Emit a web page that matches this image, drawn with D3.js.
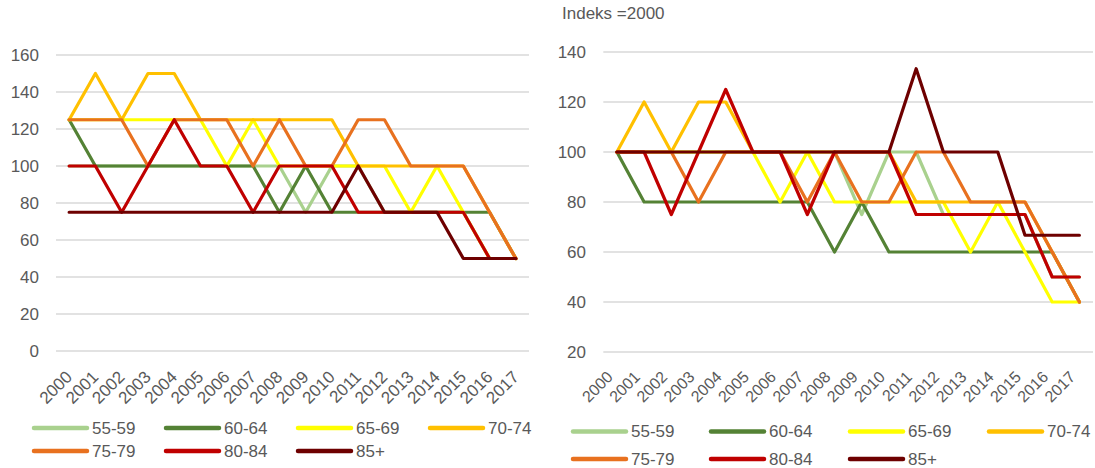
<!DOCTYPE html>
<html>
<head>
<meta charset="utf-8">
<script src="https://cdn.jsdelivr.net/npm/d3@7"></script>
<style>
  html, body { margin: 0; padding: 0; background: #fff; }
  svg { display: block; }
  text { font-family: "Liberation Sans", Arial, sans-serif; fill: #595959; }
</style>
</head>
<body>
<svg id="chart" width="1095" height="468"></svg>
<script>
// ---- Data ----
const years = ["2000","2001","2002","2003","2004","2005","2006","2007","2008","2009","2010","2011","2012","2013","2014","2015","2016","2017"];
const seriesNames = ["55-59","60-64","65-69","70-74","75-79","80-84","85+"];
const seriesColors = ["#A9D18E","#548235","#FFFF00","#FFC000","#E8711F","#C00000","#6E0000"];

// Left chart (absolute values)
const left5559 = [100,100,100,100,100,100,100,100,100,75,100,100,75,75,75,75,50,50];
const left6064 = [125,100,100,100,100,100,100,100,75,100,75,75,75,75,75,75,75,50];
const left6569 = [125,125,125,125,125,125,100,125,100,100,100,100,100,75,100,75,50,50];
const left7074 = [125,150,125,150,150,125,125,125,125,125,125,100,100,100,100,100,75,50];
const left7579 = [125,125,125,100,125,125,125,100,125,100,100,125,125,100,100,100,75,50];
const left8084 = [100,100,75,100,125,100,100,75,100,100,100,75,75,75,75,75,50,50];
const left85 = [75,75,75,75,75,75,75,75,75,75,75,100,75,75,75,50,50,50];
const leftTicks = [0,20,40,60,80,100,120,140,160];

// Right chart (index, 2000 = 100)
const right5559 = [100,100,100,100,100,100,100,100,100,75,100,100,75,75,75,75,50,50];
const right6064 = [100,80,80,80,80,80,80,80,60,80,60,60,60,60,60,60,60,40];
const right6569 = [100,100,100,100,100,100,80,100,80,80,80,80,80,60,80,60,40,40];
const right7074 = [100,120,100,120,120,100,100,100,100,100,100,80,80,80,80,80,60,40];
const right7579 = [100,100,100,80,100,100,100,80,100,80,80,100,100,80,80,80,60,40];
const right8084 = [100,100,75,100,125,100,100,75,100,100,100,75,75,75,75,75,50,50];
const right85 = [100,100,100,100,100,100,100,100,100,100,100,133.3,100,100,100,66.7,66.7,66.7];
const rightTicks = [20,40,60,80,100,120,140];
const rightTitle = "Indeks =2000";

const leftSeries = [left5559,left6064,left6569,left7074,left7579,left8084,left85];
const rightSeries = [right5559,right6064,right6569,right7074,right7579,right8084,right85];

// ---- Drawing ----
const svg = d3.select("#chart");
svg.append("rect").attr("width",1095).attr("height",468).attr("fill","#fff");

function drawChart(cfg) {
  const g = svg.append("g");
  const x = d3.scalePoint().domain(years).range([cfg.x0, cfg.x1]).padding(0.5);
  const y = d3.scaleLinear().domain(cfg.domain).range([cfg.yBottom, cfg.yTop]);

  // gridlines
  g.selectAll("line.grid").data(cfg.ticks).join("line")
    .attr("x1", cfg.x0).attr("x2", cfg.x1)
    .attr("y1", d => y(d)).attr("y2", d => y(d))
    .attr("stroke", "#D9D9D9").attr("stroke-width", 1.3);

  // y axis labels
  g.selectAll("text.ytick").data(cfg.ticks).join("text")
    .attr("x", cfg.yLabelX).attr("y", d => y(d))
    .attr("dy", "0.35em").attr("text-anchor", "end")
    .style("font-size", "17px")
    .text(d => d);

  // x axis labels
  g.selectAll("text.xtick").data(years).join("text")
    .attr("transform", d => `translate(${x(d) + cfg.xLabDx},${cfg.yBottom + cfg.xLabDy}) rotate(-45)`)
    .attr("text-anchor", "end")
    .style("font-size", cfg.xLabSize)
    .text(d => d);

  // lines
  const line = d3.line().x((d,i) => x(years[i])).y(d => y(d));
  cfg.series.forEach((vals, k) => {
    g.append("path").datum(vals)
      .attr("d", line)
      .attr("fill", "none")
      .attr("stroke", seriesColors[k])
      .attr("stroke-width", 3.2)
      .attr("stroke-linejoin", "round")
      .attr("stroke-linecap", "round");
  });

  // legend
  seriesNames.forEach((name, k) => {
    const col = k % 4, row = Math.floor(k / 4);
    const lx = cfg.legCols[col], ly = cfg.legRows[row];
    g.append("line")
      .attr("x1", lx).attr("x2", lx + 53)
      .attr("y1", ly).attr("y2", ly)
      .attr("stroke", seriesColors[k]).attr("stroke-width", 4.5)
      .attr("stroke-linecap", "round");
    g.append("text")
      .attr("x", lx + 58).attr("y", ly).attr("dy", "0.35em")
      .style("font-size", "17px")
      .text(name);
  });
}

drawChart({
  x0: 56, x1: 529, yBottom: 351, yTop: 55, domain: [0,160], ticks: leftTicks,
  yLabelX: 39, xLabDx: 4, xLabDy: 27, xLabSize: "17px",
  series: leftSeries,
  legCols: [34,166,298,430], legRows: [428,451]
});

drawChart({
  x0: 603.3, x1: 1093, yBottom: 352, yTop: 52, domain: [20,140], ticks: rightTicks,
  yLabelX: 586, xLabDx: -3, xLabDy: 26, xLabSize: "16px",
  series: rightSeries,
  legCols: [573,711,850,989], legRows: [431.5,459]
});

svg.append("text")
  .attr("x", 562).attr("y", 18.5)
  .style("font-size", "17px")
  .text(rightTitle);
</script>
</body>
</html>
